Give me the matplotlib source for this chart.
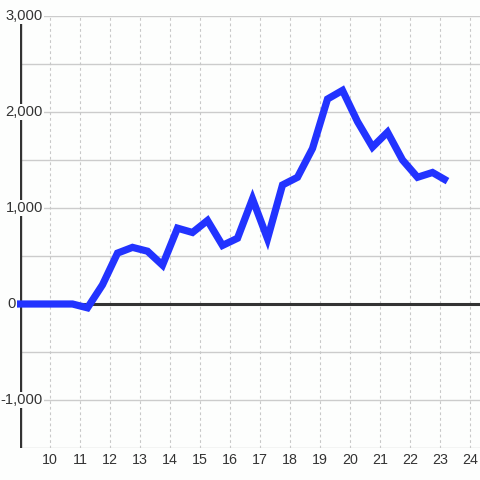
import numpy as np
import matplotlib
matplotlib.use("Agg")
import matplotlib.pyplot as plt

plt.rcParams['font.family'] = ['Liberation Sans', 'DejaVu Sans']

# Data (half-hour steps)
hours = [8.9] + list(np.arange(9.25, 23.5, 0.5))
values = [0, 0, 0, 0, 0, -40, 200, 530, 590, 550, 405, 790, 745, 870, 610,
          685, 1095, 680, 1240, 1320, 1620, 2135, 2225, 1900, 1635, 1790,
          1500, 1320, 1370, 1280]

x_ticks = list(range(10, 25))
y_ticks = [-1000, 0, 1000, 2000, 3000]
y_grid = np.arange(-1500, 3001, 500)

fig = plt.figure(figsize=(4.8, 4.8), dpi=100)
bg = '#fdfefd'
fig.patch.set_facecolor(bg)
ax = fig.add_axes([20/480, 32/480, 460/480, 432/480])
ax.set_facecolor(bg)

ax.set_xlim(9, 9 + 460/30)
ax.set_ylim(-1500, 3000)

# grid
for yv in y_grid:
    ax.axhline(yv, color='#cccccc', lw=1, zorder=1)
for xv in x_ticks:
    ax.axvline(xv, color='#c8c8c8', lw=0.8, ls=(0, (2.5, 2.5)), zorder=1)

# zero line and left axis line
ax.axhline(0, color='#333333', lw=2.2, zorder=2)
for s in ax.spines.values():
    s.set_visible(False)
ax.axvline(9, color='#333333', lw=2.4, zorder=2)

ax.plot(hours, values, color='#2233ff', lw=5.2, solid_capstyle='butt',
        solid_joinstyle='miter', zorder=3, clip_on=False)

ax.set_xticks([])
ax.set_yticks([])

for xv in x_ticks:
    ax.text(xv, -1500 - 125, str(xv), ha='center', va='center',
            fontsize=10.3, color='#333333', clip_on=False)

for yv in y_ticks:
    right = 9 + 23/30 if yv != 0 else 9 - 4/30
    ax.text(right, yv, f"{yv:,}", ha='right', va='center', fontsize=10.6,
            color='#333333', zorder=5, clip_on=False,
            bbox=dict(facecolor=bg, edgecolor='none', pad=0.8))

fig.savefig('out.png', dpi=100, facecolor=bg)
